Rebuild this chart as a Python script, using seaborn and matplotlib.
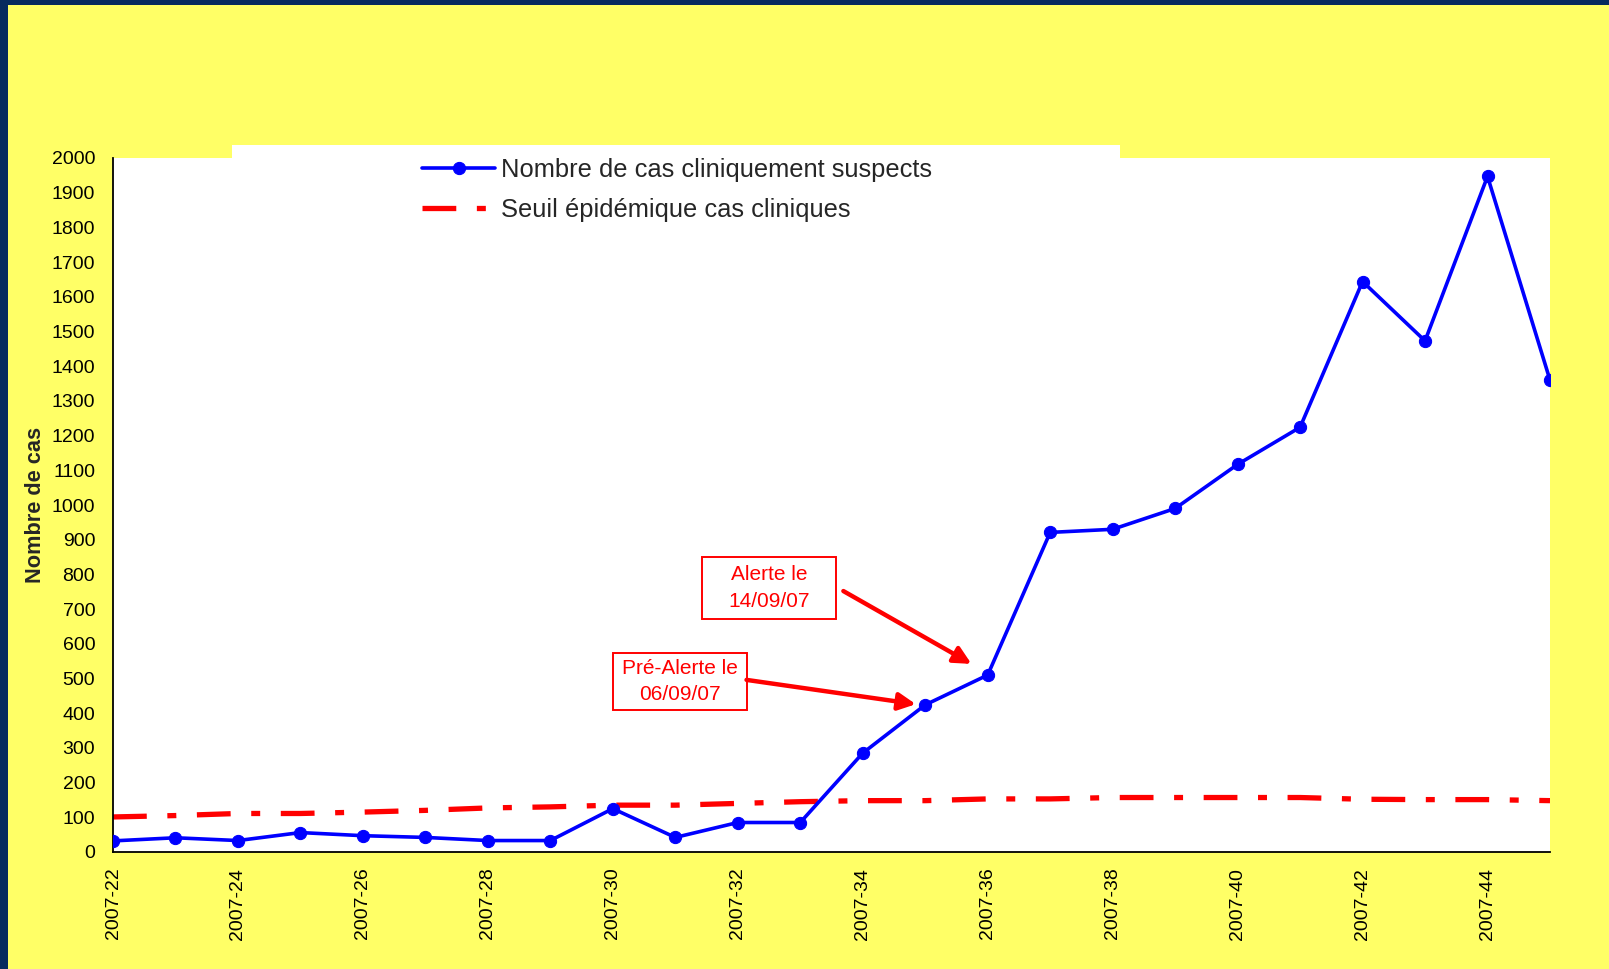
import matplotlib
matplotlib.use("Agg")
import matplotlib.pyplot as plt
import seaborn as sns
import pandas as pd
from matplotlib.patches import Rectangle

# Weekly surveillance data
weeks = [f"2007-{w}" for w in range(22, 46)]
cas_suspects = [32, 41, 33, 56, 47, 42, 33, 33, 125, 42, 85, 85,
                285, 424, 510, 921, 930, 990, 1117, 1224, 1644, 1473, 1947, 1360]
seuil = [101, 105, 111, 111, 115, 120, 127, 130, 135, 135, 140, 145,
         148, 148, 153, 153, 157, 157, 157, 157, 152, 151, 151, 148]
tick_labels = weeks[::2]

label_cas = "Nombre de cas cliniquement suspects"
label_seuil = "Seuil épidémique cas cliniques"

sns.set_style("white")
plt.rcParams["font.family"] = ["Liberation Sans", "DejaVu Sans"]

YELLOW = "#FFFF66"
NAVY = "#072A5E"

df = pd.DataFrame({"pos": range(len(weeks)), "semaine": weeks,
                   "cas": cas_suspects, "seuil": seuil})

W, H = 1609, 969
fig = plt.figure(figsize=(W / 100, H / 100), dpi=100, facecolor=YELLOW)
ax = fig.add_axes([113 / W, 1 - 852 / H, (1550 - 113) / W, (852 - 158) / H])
ax.set_zorder(1)
ax.set_facecolor("white")

# dark frame on the left and top of the slide
fig.add_artist(Rectangle((0, 0), 8 / W, 1, transform=fig.transFigure,
                         facecolor=NAVY, edgecolor="none", zorder=0.2))
fig.add_artist(Rectangle((0, 1 - 5 / H), 1, 5 / H, transform=fig.transFigure,
                         facecolor=NAVY, edgecolor="none", zorder=0.2))
# white legend panel above the plot area
fig.add_artist(Rectangle((232 / W, 1 - 240 / H), (1120 - 232) / W, (240 - 145) / H,
                         transform=fig.transFigure, facecolor="white",
                         edgecolor="none", zorder=0.5))

sns.lineplot(data=df, x="pos", y="seuil", ax=ax, color="red", linewidth=3.8,
             label=label_seuil, zorder=2)
seuil_line = ax.lines[-1]
seuil_line.set_linestyle((0, (6.4, 3.9, 1.7, 3.9)))
seuil_line.set_dash_capstyle("butt")

sns.lineplot(data=df, x="pos", y="cas", ax=ax, color="blue", linewidth=2.6,
             marker="o", markersize=8.8, markeredgecolor="blue",
             label=label_cas, zorder=3)

ax.set_xlim(0, len(weeks) - 1)
ax.set_ylim(0, 2000)
ax.set_yticks(range(0, 2001, 100))
ax.set_xticks(range(0, len(weeks), 2))
ax.set_xticklabels(tick_labels, rotation=90)
ax.tick_params(axis="both", direction="out", length=4.3, width=1.2,
               color="#404040", labelsize=14, labelcolor="black")
ax.tick_params(axis="x", pad=7)
ax.tick_params(axis="y", pad=8.5)
ax.set_xlabel("")
ax.set_ylabel("Nombre de cas", fontsize=15.7, fontweight="bold")
ax.yaxis.set_label_coords(-0.0464, 0.5)

for side in ("top", "right"):
    ax.spines[side].set_visible(False)
for side in ("left", "bottom"):
    ax.spines[side].set_color("black")
    ax.spines[side].set_linewidth(1.3)

# legend
handles, labels = ax.get_legend_handles_labels()
order = [labels.index(label_cas), labels.index(label_seuil)]
ax.legend([handles[i] for i in order], [labels[i] for i in order],
          loc="upper left", bbox_to_anchor=(422 / W, 1 - 158 / H),
          bbox_transform=fig.transFigure, frameon=False, borderpad=0,
          borderaxespad=0, handlelength=2.86, handletextpad=0.25,
          labelspacing=0.64, fontsize=18.4)

# alert annotations
notes = [
    ("Alerte le\n14/09/07", (9.42, 671, 2.16, 179), (11.69, 752), (13.74, 542)),
    ("Pré-Alerte le\n06/09/07", (8.01, 409, 2.13, 164), (10.14, 496), (12.85, 426)),
]
for text, (bx, by, bw, bh), start, end in notes:
    ax.add_patch(Rectangle((bx, by), bw, bh, facecolor="white", edgecolor="red",
                           linewidth=1.4, zorder=4))
    ax.text(bx + bw / 2, by + bh / 2, text, ha="center", va="center",
            color="red", fontsize=15, linespacing=1.5, zorder=5)
    ax.annotate("", xy=end, xytext=start,
                arrowprops=dict(arrowstyle="-|>", color="red", lw=3.2,
                                mutation_scale=26, shrinkA=0, shrinkB=0),
                zorder=5)

fig.savefig("out.png", dpi=100, facecolor=YELLOW)
